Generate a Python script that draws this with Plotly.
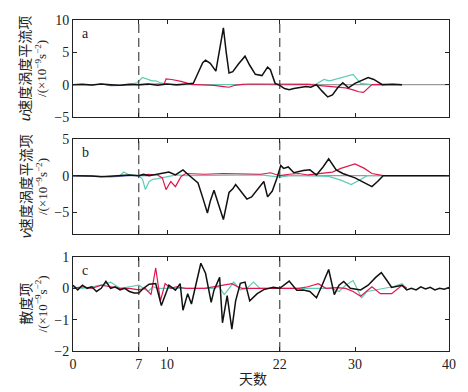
import plotly.graph_objects as go

# ---------------- data (days, values) ----------------
a_black_d = [0,1,2,3,4,5,6,7,8,9,10,11,12,12.8,13.3,13.8,14.1,14.6,15.2,15.6,16.0,16.3,16.6,17.0,17.6,18.3,18.8,19.4,20.1,20.7,21.0,21.5,22,22.5,23,23.5,24,24.8,25.3,25.9,26.5,27.1,27.6,28.2,28.7,29.3,30,30.7,31.4,32.0,32.9,34,35]
a_black_v = [0,0.05,-0.05,0.1,0,-0.1,0.05,0,0.1,-0.1,0.1,0,0.1,0.2,1.8,3.4,3.8,3.3,2.1,5.5,8.8,5.0,1.8,2.0,3.2,4.4,3.0,1.6,1.4,2.7,2.3,0.2,-0.1,-0.6,-0.8,-0.6,-0.5,-0.3,-0.4,0,-1.0,-1.9,-1.6,-0.4,0.3,-0.5,0.2,0.7,1.1,0.8,0,0.05,0]
a_red_d = [7,8,9,9.7,9.9,10.5,11.5,12.6,14,15,16,16.6,17.2,18,19,20,21,22,23,24,25,26,26.9,28,29,29.8,30.4,30.9,31.4,31.8,33,35]
a_red_v = [0,0.1,0.1,0.1,0.9,0.8,0.5,0.05,0,-0.1,-0.3,-0.4,-0.1,0.05,0.1,0.1,0,0,0,0.1,0.05,-0.1,-0.2,-0.3,-0.5,-0.8,-1.1,-1.2,-0.5,0,0.05,0]
a_teal_d = [6,6.8,7.4,7.9,8.4,8.8,9.3,10,11,12,14,16,18,20,22,24,25.9,26.7,27.3,28.2,29.0,29.8,30.6,31.8,33]
a_teal_v = [0,0.3,1.1,0.8,0.6,0.6,0.3,0.1,-0.1,0,0,-0.1,0,0,0,0,0.1,0.8,0.6,1.0,1.3,1.6,0.2,0,0]
a_purple_d = [0,1,2,3,4,5,6,7,8]
a_purple_v = [0,0,-0.05,0.1,-0.15,-0.1,0,0,0]
a_gray_d = [21,22,23,24,26,28,33,40]
a_gray_v = [0,0.05,0.1,0.05,0,0,0,0]

b_black_d = [0,1,2,3,4,5,6,7,7.5,8.1,8.8,9.5,10.2,10.9,11.7,12.4,13.3,13.8,14.3,14.6,15.0,15.5,16.0,16.6,17.0,17.3,17.7,18.1,18.5,19.0,19.4,20.3,20.7,21.2,21.7,22.1,22.4,22.9,23.5,24.5,25.2,25.9,26.6,27.2,28.0,28.7,30.0,31.0,31.8,32.4,33.0,35,40]
b_black_v = [0,0,-0.05,-0.15,-0.1,0,0.1,0,0.2,0,0.2,0.3,0.5,0.1,0.8,0,-1,-3,-5.1,-3.5,-2.0,-4,-6.0,-2.3,-1.8,-1.2,-1.9,-2.6,-3.2,-2.9,-2.3,-0.8,-2.9,-2.1,-0.3,1.4,1.0,1.2,0.4,0.7,0.8,0.1,1.2,2.3,0.8,0.3,-0.3,-1.0,-1.5,-0.8,0,0,0]
b_red_d = [7,8,9,9.5,9.9,10.4,10.9,11.5,12,14,16,18,20,21,22,23,24,25,26.2,27.6,28.5,30,31,31.8,33]
b_red_v = [0,0.2,0.1,-0.3,-1.9,-0.8,-1.5,-0.1,0.3,0.2,0.3,0.3,0.2,0.4,0,0.2,0.3,0.1,0.3,0.5,1.0,1.6,1.0,0.3,0]
b_teal_d = [5,5.4,6,7,7.4,7.7,8.1,8.5,9,10,11,12,16,20,22,23,25,27.2,28.5,29.6,30.5,31.3,33]
b_teal_v = [0,0.5,0.1,0,-0.5,-1.9,-0.8,-0.5,-0.4,-0.1,0.1,0,0,0.1,-0.2,0,0,-0.1,-0.6,-1.2,-0.6,0,0]
b_purple_d = [0,1,2,3,4,5,6,8]
b_purple_v = [0,0,0,-0.1,-0.15,-0.05,0,0]
b_gray_d = [22,24,30,40]
b_gray_v = [0,0,0,0]

c_black_d = [0,0.5,1,1.5,2,2.5,3,3.5,4,4.5,5,5.5,6,6.5,7,7.5,8.1,8.8,9.4,10.2,10.9,11.4,11.7,12.2,12.6,13.1,13.6,14.1,14.7,15.0,15.6,15.9,16.4,16.9,17.3,17.8,18.3,18.8,19.6,20.3,21.3,22,23,23.8,24.5,25.2,25.9,26.5,27.2,27.8,28.3,28.8,29.5,30.6,31.4,32.2,32.8,33.4,33.9,35,35.5,36,36.5,37,37.5,38,38.5,39,39.5,40]
c_black_v = [0.1,-0.05,0.1,0,0.05,-0.1,0,0.22,0,0.05,-0.05,0,-0.1,-0.15,-0.15,0,0.13,0.15,-0.55,0.1,-0.06,0.15,-0.7,-0.17,-0.5,0.2,0.8,0.48,-0.45,-0.06,0.35,-1.1,-0.23,-1.3,-0.4,0.16,0.2,-0.4,-0.17,-0.04,0.03,0,0.23,-0.06,-0.05,-0.1,-0.3,0.1,0.6,-0.2,0.1,0.22,0,-0.05,0.1,0.35,0.5,0.25,0.03,0.1,-0.05,0,-0.05,0.05,-0.02,0.03,-0.05,0,-0.03,0.03]
c_red_d = [0,1,2,3,4,5,6,7,7.7,8.3,8.8,9.3,9.8,10.4,11,12,14,15,16,16.9,17.5,18,20,22,24,25,26.1,26.9,28,29,29.8,30.6,31.2,31.8,32.7,33.9,35,35.5]
c_red_v = [0,0.05,0,0.1,0.05,0,0,-0.05,0,-0.2,0.65,-0.4,0.15,0,0.05,0,0,0.05,0.1,0.15,0.05,0,0,0,0,0.05,0.15,0,0.02,0,-0.1,-0.25,-0.1,0.05,-0.17,-0.17,0.1,0]
c_teal_d = [0,1,2,3,4,4.5,5,6,7,7.5,8,8.5,9,10,12,14,15,15.5,16.1,16.6,17.1,17.8,18.5,19.2,19.9,21,22,24,26,27.5,28.3,29.0,29.8,30.7,31.3,32.1,33.2,34,35,35.5]
c_teal_v = [0.05,0,0.05,0.1,0.2,0.1,0,0.05,0.1,0,-0.1,0.05,0,0,0,0,0,0.05,-0.2,0,0.2,-0.05,0,0.2,0,0,0,0,0,0,-0.1,0.1,0.25,-0.3,-0.1,-0.05,0,0.05,0.15,0]

x_ticks = [0, 7, 10, 22, 30, 40]
dash_days = [7, 22]
panel_labels = ["a", "b", "c"]
y_ranges = [[-5, 10], [-8, 5], [-2, 1]]
y_ticks = [[-5, 0, 5, 10], [-5, 0, 5], [-2, -1, 0, 1]]
y_title1 = ["<i>u</i>速度涡度平流项", "<i>v</i>速度涡度平流项", "散度项"]
y_unit = "/(×10<sup>−9</sup>s<sup>−2</sup>)"

BLACK = "#111111"
RED = "#e0174f"
TEAL = "#5ccdb4"
PURPLE = "#6a66b8"
GRAY = "#9a9a9a"

panels = [
    [(a_purple_d, a_purple_v, PURPLE), (a_gray_d, a_gray_v, GRAY), (a_teal_d, a_teal_v, TEAL), (a_red_d, a_red_v, RED), (a_black_d, a_black_v, BLACK)],
    [(b_purple_d, b_purple_v, PURPLE), (b_gray_d, b_gray_v, GRAY), (b_teal_d, b_teal_v, TEAL), (b_red_d, b_red_v, RED), (b_black_d, b_black_v, BLACK)],
    [(c_teal_d, c_teal_v, TEAL), (c_red_d, c_red_v, RED), (c_black_d, c_black_v, BLACK)],
]

domains = [[0.707, 1.0], [0.353, 0.640], [0.0, 0.284]]
FONT = "Liberation Serif, Noto Sans CJK SC, serif"
CJK = "Noto Sans CJK SC, Liberation Serif, serif"

fig = go.Figure()
layout = dict(
    width=468, height=392,
    margin=dict(l=73, r=13, t=20, b=41),
    paper_bgcolor="white", plot_bgcolor="white",
    showlegend=False,
    font=dict(family=FONT, size=14, color="#222"),
)
annotations = []
shapes = []
for i, series in enumerate(panels):
    n = i + 1
    xa = "x" if n == 1 else f"x{n}"
    ya = "y" if n == 1 else f"y{n}"
    for d, v, c in series:
        fig.add_trace(go.Scatter(x=d, y=v, mode="lines",
                                 line=dict(color=c, width=1.5 if c == BLACK else 1.2),
                                 xaxis=xa, yaxis=ya, hoverinfo="skip"))
    layout["xaxis" if n == 1 else f"xaxis{n}"] = dict(
        domain=[0, 1], range=[0, 40], anchor=ya,
        tickvals=x_ticks, ticktext=[str(t) for t in x_ticks],
        showticklabels=(n == 3), ticks="inside", ticklen=4, tickcolor="#222",
        showline=True, linecolor="#222", linewidth=1, mirror="ticks",
        showgrid=False, zeroline=False, tickfont=dict(size=14, family=FONT),
    )
    layout["yaxis" if n == 1 else f"yaxis{n}"] = dict(
        domain=domains[i], range=y_ranges[i], anchor=xa,
        tickvals=y_ticks[i], ticks="inside", ticklen=4, tickcolor="#222",
        showline=True, linecolor="#222", linewidth=1, mirror="ticks",
        showgrid=False, zeroline=False, tickfont=dict(size=14, family=FONT),
    )
    for dd in dash_days:
        shapes.append(dict(type="line", xref=xa, yref=f"{ya} domain", x0=dd, x1=dd, y0=0, y1=1,
                           line=dict(color="#222", width=1, dash="9px,5px")))
    annotations.append(dict(text=panel_labels[i], xref="paper", yref="paper",
                            x=0.018, y=domains[i][1] - 0.012, xanchor="left", yanchor="top",
                            showarrow=False, font=dict(size=14, family=FONT)))
    mid = (domains[i][0] + domains[i][1]) / 2
    annotations.append(dict(text=y_title1[i], xref="paper", yref="paper", x=-0.128, y=mid,
                            xanchor="center", yanchor="middle", textangle=-90, showarrow=False,
                            font=dict(size=14, family=CJK)))
    annotations.append(dict(text=y_unit, xref="paper", yref="paper", x=-0.084, y=mid,
                            xanchor="center", yanchor="middle", textangle=-90, showarrow=False,
                            font=dict(size=13, family=FONT)))

annotations.append(dict(text="天数", xref="paper", yref="paper", x=0.478, y=-0.082,
                        xanchor="center", yanchor="middle", showarrow=False,
                        font=dict(size=14, family=CJK)))
layout["annotations"] = annotations
layout["shapes"] = shapes
fig.update_layout(**layout)
fig.write_html(
    "out.html",
    config={"displayModeBar": False},
    post_script="document.body.style.margin='0';document.documentElement.style.overflow='hidden';document.body.style.overflow='hidden';",
)
